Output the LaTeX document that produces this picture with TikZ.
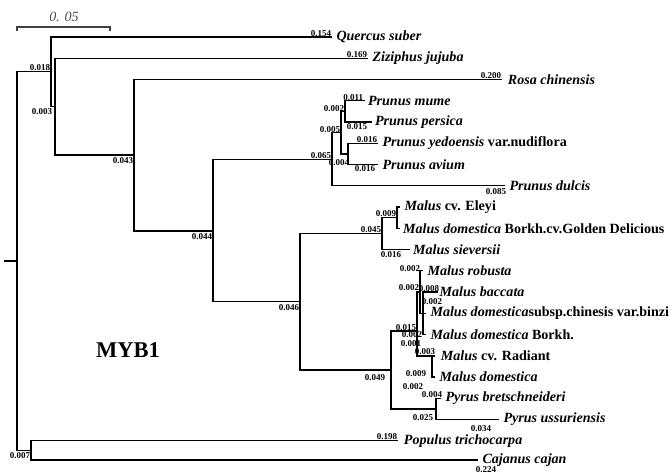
\documentclass[tikz,border=0pt]{standalone}
\usepackage{fontspec}
\setmainfont{Liberation Serif}
\usetikzlibrary{positioning}

\tikzset{
  branch/.style={line width=0.9pt, black},
  taxon/.style={anchor=west, inner sep=0pt, font=\fontsize{10}{12}\selectfont\bfseries},
  blen/.style={inner sep=0.4pt, font=\fontsize{6.4}{7}\selectfont\bfseries},
}

\begin{document}
\begin{tikzpicture}[x=0.025cm, y=-0.025cm]
\useasboundingbox (0,0) rectangle (672,475);

% scale bar
\coordinate (sbl) at (17,27);
\coordinate (sbr) at (110,27);
\draw [line width=0.8pt, black!75] ([yshift=-3]sbl) -- (sbl) -- (sbr) -- ([yshift=-3]sbr);
\node [font=\fontsize{10}{12}\selectfont\itshape, black!70] (sblabel) at (64,17) {0. 05};

% internal nodes
\coordinate (root) at (17,261.1);
\coordinate (stub) at (4,261.1);
\coordinate (I) at (51,71.8);
\coordinate (J) at (55,106.6);
\coordinate (K) at (134,155);
\coordinate (N) at (213,231);
\coordinate (P) at (332,159.2);
\coordinate (Q) at (341,132.6);
\coordinate (R) at (345,111.4);
\coordinate (S) at (348,153.9);
\coordinate (M) at (300,301.8);
\coordinate (E1) at (382,233.6);
\coordinate (E) at (397,217.6);
\coordinate (H) at (391,370);
\coordinate (A) at (417,331);
\coordinate (C) at (420,292);
\coordinate (D) at (423,313.25);
\coordinate (B) at (432,356);
\coordinate (Py) at (436,408.9);
\coordinate (T) at (31,450.4);

% leaf tips
\coordinate (quercus) at (332,37);
\coordinate (ziziphus) at (368,58.25);
\coordinate (rosa) at (502,79.5);
\coordinate (mume) at (365,100.75);
\coordinate (persica) at (372,122);
\coordinate (yedo) at (378,143.25);
\coordinate (avium) at (378,164.5);
\coordinate (dulcis) at (505,185.75);
\coordinate (eleyi) at (400,207);
\coordinate (golden) at (400,228.25);
\coordinate (sieversii) at (410,249.5);
\coordinate (robusta) at (423,270.75);
\coordinate (baccata) at (438,292);
\coordinate (subsp) at (426,313.25);
\coordinate (borkh) at (426,334.5);
\coordinate (radiant) at (435,356);
\coordinate (domestica) at (435,377);
\coordinate (bret) at (441,398.25);
\coordinate (uss) at (499,419.5);
\coordinate (populus) at (398,440.75);
\coordinate (cajanus) at (478,460);

% branches
\draw [branch] (stub) -- (root);
\draw [branch] (root) |- (I);
\draw [branch] (root) |- (T);
\draw [branch] (I) |- (quercus);
\draw [branch] (I) |- (J);
\draw [branch] (J) |- (ziziphus);
\draw [branch] (J) |- (K);
\draw [branch] (K) |- (rosa);
\draw [branch] (K) |- (N);
\draw [branch] (N) |- (P);
\draw [branch] (N) |- (M);
\draw [branch] (P) |- (Q);
\draw [branch] (P) |- (dulcis);
\draw [branch] (Q) |- (R);
\draw [branch] (Q) |- (S);
\draw [branch] (R) |- (mume);
\draw [branch] (R) |- (persica);
\draw [branch] (S) |- (yedo);
\draw [branch] (S) |- (avium);
\draw [branch] (M) |- (E1);
\draw [branch] (M) |- (H);
\draw [branch] (E1) |- (E);
\draw [branch] (E1) |- (sieversii);
\draw [branch] (E) |- (eleyi);
\draw [branch] (E) |- (golden);
\draw [branch] (H) |- (A);
\draw [branch] (H) |- (Py);
\draw [branch] (A) |- (C);
\draw [branch] (A) |- (B);
\draw [branch] (C) |- (robusta);
\draw [branch] (C) |- (D);
\draw [branch] (D) |- (baccata);
\draw [branch] (D) |- (subsp);
\draw [branch] (D) |- (borkh);
\draw [branch] (B) |- (radiant);
\draw [branch] (B) |- (domestica);
\draw [branch] (Py) |- (bret);
\draw [branch] (Py) |- (uss);
\draw [branch] (T) |- (populus);
\draw [branch] (T) |- (cajanus);

% taxa
\node [taxon, right=3pt of quercus] (quercusname) {\textit{Quercus suber}};
\node [taxon, right=3pt of ziziphus] (ziziphusname) {\textit{Ziziphus jujuba}};
\node [taxon, right=4pt of rosa] (rosaname) {\textit{Rosa chinensis}};
\node [taxon, right=2pt of mume] (mumename) {\textit{Prunus mume}};
\node [taxon, right=2pt of persica] (persicaname) {\textit{Prunus persica}};
\node [taxon, right=3pt of yedo] (yedoname) {\textit{Prunus yedoensis} var.nudiflora};
\node [taxon, right=3pt of avium] (aviumname) {\textit{Prunus avium}};
\node [taxon, right=3pt of dulcis] (dulcisname) {\textit{Prunus dulcis}};
\node [taxon, right=3pt of eleyi] (eleyiname) {\textit{Malus} cv. Eleyi};
\node [taxon, right=2pt of golden] (goldenname) {\textit{Malus domestica} Borkh.cv.Golden Delicious};
\node [taxon, right=2pt of sieversii] (sieversiiname) {\textit{Malus sieversii}};
\node [taxon, right=3pt of robusta] (robustaname) {\textit{Malus robusta}};
\node [taxon, right=1pt of baccata] (baccataname) {\textit{Malus baccata}};
\node [taxon, right=3pt of subsp] (subspname) {\textit{Malus domestica}subsp.chinesis var.binzi};
\node [taxon, right=3pt of borkh] (borkhname) {\textit{Malus domestica} Borkh.};
\node [taxon, right=4pt of radiant] (radiantname) {\textit{Malus} cv. Radiant};
\node [taxon, right=3pt of domestica] (domesticaname) {\textit{Malus domestica}};
\node [taxon, right=3pt of bret] (bretname) {\textit{Pyrus bretschneideri}};
\node [taxon, right=3pt of uss] (ussname) {\textit{Pyrus ussuriensis}};
\node [taxon, right=4pt of populus] (populusname) {\textit{Populus trichocarpa}};
\node [taxon, right=3pt of cajanus] (cajanusname) {\textit{Cajanus cajan}};

% branch lengths
\node [blen, anchor=south east] (l154) at (quercus) {0.154};
\node [blen, anchor=south east] (l169) at (ziziphus) {0.169};
\node [blen, anchor=south east] (l200) at (rosa) {0.200};
\node [blen, anchor=south east] (l018) at (I) {0.018};
\node [blen, anchor=north east] (l003a) at (53,108) {0.003};
\node [blen, anchor=north east] (l043) at (134,157) {0.043};
\node [blen, anchor=north east] (l044) at (213,233) {0.044};
\node [blen, anchor=north east] (l046) at (300,304) {0.046};
\node [blen, anchor=south east] (l065) at (P) {0.065};
\node [blen] (l004a) at (339,163) {0.004};
\node [blen, anchor=south east] (l005) at (341,133) {0.005};
\node [blen, anchor=south east] (l002a) at (345,112) {0.002};
\node [blen, anchor=south east] (l011) at (364,101) {0.011};
\node [blen, anchor=north] (l015a) at (357,123) {0.015};
\node [blen, anchor=south east] (l016a) at (yedo) {0.016};
\node [blen, anchor=north] (l016b) at (365,165) {0.016};
\node [blen, anchor=north] (l085) at (496,188) {0.085};
\node [blen, anchor=south east] (l009a) at (E) {0.009};
\node [blen, anchor=south east] (l045) at (E1) {0.045};
\node [blen, anchor=north] (l016c) at (391,251) {0.016};
\node [blen, anchor=south east] (l002b) at (421,272) {0.002};
\node [blen, anchor=south east] (l002c) at (420,291) {0.002};
\node [blen, anchor=south east] (l008) at (440,292) {0.008};
\node [blen] (l002d) at (432,302) {0.002};
\node [blen, anchor=south east] (l015b) at (A) {0.015};
\node [blen] (l002e) at (412,335) {0.002};
\node [blen] (l001) at (411,344) {0.001};
\node [blen] (l003b) at (425,352) {0.003};
\node [blen] (l009b) at (416,374) {0.009};
\node [blen] (l002f) at (413,387) {0.002};
\node [blen] (l049) at (375,378) {0.049};
\node [blen, anchor=south east] (l004b) at (443,398.5) {0.004};
\node [blen] (l025) at (423,418) {0.025};
\node [blen] (l034) at (481,429) {0.034};
\node [blen, anchor=south east] (l198) at (populus) {0.198};
\node [blen, anchor=north east] (l007) at (31,452) {0.007};
\node [blen, anchor=north] (l224) at (486,466) {0.224};

\node [font=\fontsize{16}{18}\selectfont\bfseries] (myb) at (128,350) {MYB1};

\end{tikzpicture}
\end{document}
